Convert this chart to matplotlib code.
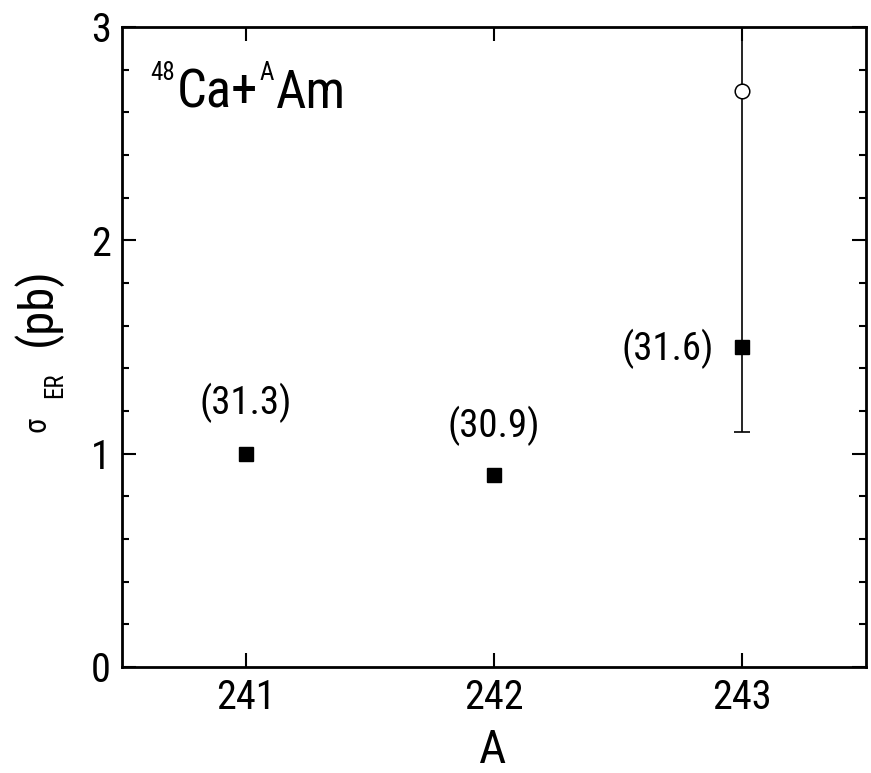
import matplotlib
matplotlib.use("Agg")
import matplotlib.pyplot as plt

# data
mass_number = [241, 242, 243]
sigma_er = [1.0, 0.9, 1.5]
energy_labels = ["(31.3)", "(30.9)", "(31.6)"]
label_y = [1.24, 1.13, 1.49]
label_dx = [0.0, 0.0, -0.3]

err_low = [0.4]
err_high = [1.9]

open_x = [243]
open_y = [2.7]

plt.rcParams["font.family"] = ["Roboto Condensed", "Liberation Sans", "DejaVu Sans"]

W, H = 871, 773
fig = plt.figure(figsize=(W / 100, H / 100), dpi=100)
ax = fig.add_axes([122 / W, 1 - 667 / H, (866 - 122) / W, (667 - 27) / H])


def px(x, y):
    return x / W, 1 - y / H


# error bar on 243 (upper end runs off the frame)
ax.errorbar(mass_number[2:], sigma_er[2:], yerr=[err_low, err_high],
            fmt="none", ecolor="black", elinewidth=1.2, capsize=5.5,
            capthick=1.2, zorder=2)
ax.plot(mass_number, sigma_er, "s", color="black", markersize=9.5, zorder=3)
ax.plot(open_x, open_y, "o", mfc="white", mec="black", mew=1.1,
        markersize=10.5, zorder=4)

for x, y, t, dx in zip(mass_number, label_y, energy_labels, label_dx):
    ax.text(x + dx, y, t, fontsize=28, ha="center", va="center")

ax.set_xlim(240.5, 243.5)
ax.set_ylim(0, 3)
ax.set_xticks(mass_number)
ax.set_yticks([0, 1, 2, 3])
ax.set_yticks([v / 5 for v in range(16)], minor=True)
ax.tick_params(which="both", direction="in", top=True, right=True,
               width=1.5, labelsize=29)
ax.tick_params(which="major", length=10, pad=8)
ax.tick_params(which="minor", length=5)
ax.tick_params(axis="x", which="minor", bottom=False, top=False)
for s in ax.spines.values():
    s.set_linewidth(2)

# x axis label
fig.text(*px(493, 772), "A", fontsize=34, ha="center", va="bottom")

# y axis label in pieces
fig.text(*px(37, 307), "(pb)", fontsize=35, rotation=90, ha="center", va="center")
fig.text(*px(55, 385), "ER", fontsize=18, rotation=90, ha="center", va="center")
fig.text(*px(37, 424), "σ", fontsize=22, rotation=90, ha="center", va="center")

# reaction label
fig.canvas.draw()
r = fig.canvas.get_renderer()
x0 = 150
pieces = [("48", 18, 80), ("Ca+", 38, 108), ("A", 18, 80), ("Am", 38, 108)]
for txt, fs, base in pieces:
    t = fig.text(*px(x0, base), txt, fontsize=fs, ha="left", va="baseline")
    bb = t.get_window_extent(r)
    x0 = bb.x1 + 2

fig.savefig("out.png", dpi=100)
